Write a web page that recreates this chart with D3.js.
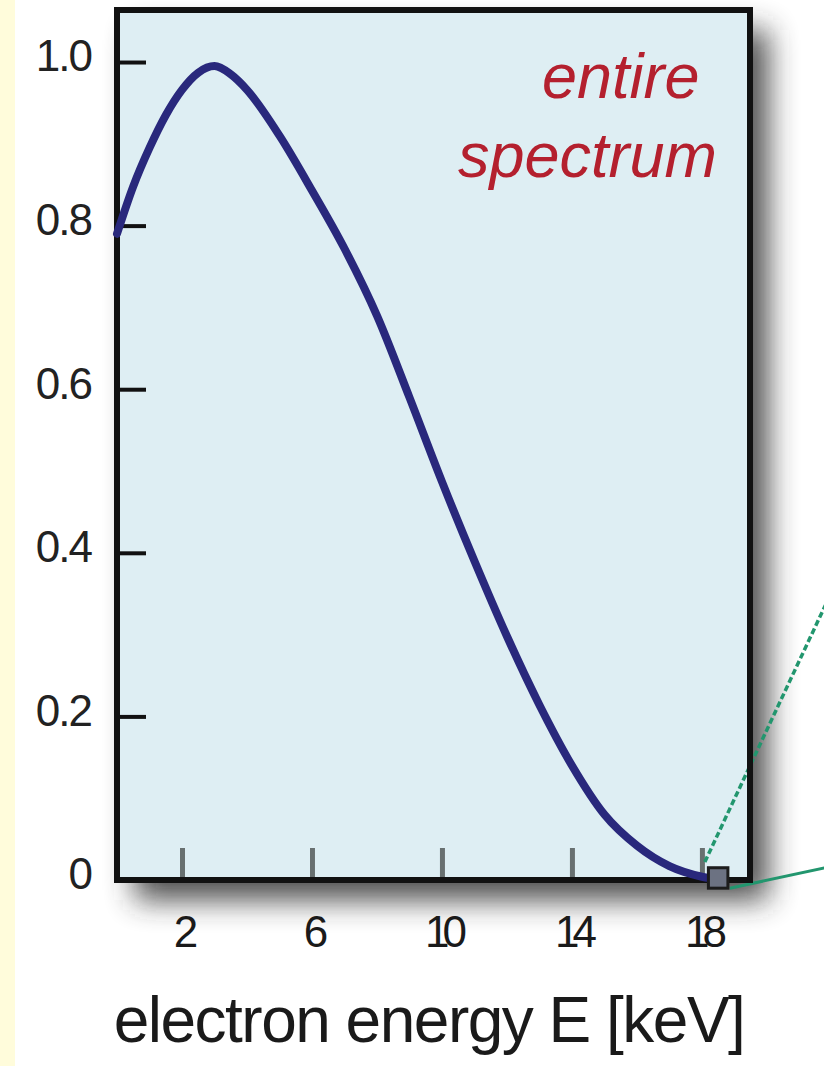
<!DOCTYPE html>
<html>
<head>
<meta charset="utf-8">
<script src="https://cdn.jsdelivr.net/npm/d3@7"></script>
<style>
    body { margin: 0; background: #fff; }
    svg text { font-family: "Liberation Sans", Arial, sans-serif; }
</style>
</head>
<body>
<div id="chart"></div>
<script>
// spectrum (energy in keV, relative rate)
var energy = [0, 0.5, 1, 1.5, 2, 2.5, 3, 3.5, 4, 5, 6, 7, 8, 9, 10, 11, 12, 13, 14, 15, 16, 17, 18, 18.6];
var rate   = [0.79, 0.848, 0.895, 0.935, 0.966, 0.987, 0.995, 0.985, 0.966, 0.91, 0.843, 0.772, 0.69, 0.59, 0.487, 0.39, 0.298, 0.214, 0.14, 0.08, 0.042, 0.017, 0.004, 0];

var xTicks = [2, 6, 10, 14, 18];
var yTicks = [0, 0.2, 0.4, 0.6, 0.8, 1.0];

var xTitle = "electron energy E [keV]";
var labelLines = ["entire", "spectrum"];

// endpoint box and the two connector lines leading off to the right
var endBox = {e0: 18.2, e1: 18.8, v0: 0.015, v1: -0.01};
var linkDashed = [[18.09, 0.022], [21.8, 0.336]];
var linkSolid  = [[18.86, -0.01], [21.8, 0.015]];

var data = energy.map(function(e, i) { return {e: e, v: rate[i]}; });

var W = 824, H = 1066;
var plot = {left: 117, right: 750, top: 10, bottom: 880};

var svg = d3.select("#chart")
    .append("svg")
    .attr("width", W)
    .attr("height", H);

var defs = svg.append("defs");
var shadow = defs.append("filter")
    .attr("id", "shadow")
    .attr("x", "-20%").attr("y", "-20%")
    .attr("width", "140%").attr("height", "140%");
shadow.append("feGaussianBlur").attr("stdDeviation", 15);

var xScale = d3.scaleLinear().domain([0, 19.48]).range([plot.left, plot.right]);
var yScale = d3.scaleLinear().domain([0, 1.0636]).range([plot.bottom, plot.top]);

// page background with the yellow strip on the left
svg.append("rect").attr("width", W).attr("height", H).attr("fill", "#ffffff");
svg.append("rect").attr("width", 15).attr("height", H).attr("fill", "#fffcdb");

// drop shadow behind the frame
svg.append("rect")
    .attr("x", plot.left + 18)
    .attr("y", plot.top + 20)
    .attr("width", plot.right - plot.left)
    .attr("height", plot.bottom - plot.top)
    .attr("fill", "#2e2e2e")
    .attr("opacity", 0.85)
    .attr("filter", "url(#shadow)");

svg.append("rect")
    .attr("x", plot.left)
    .attr("y", plot.top)
    .attr("width", plot.right - plot.left)
    .attr("height", plot.bottom - plot.top)
    .attr("fill", "#deeef3");

var yAxis = d3.axisLeft(yScale)
    .tickValues(yTicks)
    .tickSizeInner(-29)
    .tickSizeOuter(0)
    .tickPadding(26)
    .tickFormat(function(d) { return d === 0 ? "0" : d3.format(".1f")(d); });

var xAxis = d3.axisBottom(xScale)
    .tickValues(xTicks)
    .tickSizeInner(-32)
    .tickSizeOuter(0)
    .tickPadding(36)
    .tickFormat(d3.format("d"));

var yAxisGroup = svg.append("g")
    .attr("class", "y axis")
    .attr("transform", "translate(" + plot.left + ",0)")
    .call(yAxis);

yAxisGroup.select(".domain").remove();
yAxisGroup.selectAll("line").attr("stroke", "#111").attr("stroke-width", 4);
yAxisGroup.selectAll("text")
    .attr("fill", "#222")
    .attr("font-size", 44)
    .attr("letter-spacing", -2)
    .attr("dy", "0.2em");

var xAxisGroup = svg.append("g")
    .attr("class", "x axis")
    .attr("transform", "translate(0," + plot.bottom + ")")
    .call(xAxis);

xAxisGroup.select(".domain").remove();
xAxisGroup.selectAll("line").attr("stroke", "#687070").attr("stroke-width", 5);
xAxisGroup.selectAll("text")
    .attr("fill", "#1a1a1a")
    .attr("font-size", 44)
    .attr("letter-spacing", -7);

// connector lines (drawn under the frame so the border sits on top)
var link = d3.line()
    .x(function(d) { return xScale(d[0]); })
    .y(function(d) { return yScale(d[1]); });

svg.append("path")
    .datum(linkDashed)
    .attr("d", link)
    .attr("fill", "none")
    .attr("stroke", "#22966e")
    .attr("stroke-width", 3.5)
    .attr("stroke-dasharray", "6,3");

svg.append("path")
    .datum(linkSolid)
    .attr("d", link)
    .attr("fill", "none")
    .attr("stroke", "#22966e")
    .attr("stroke-width", 3);

// frame
svg.append("rect")
    .attr("x", plot.left)
    .attr("y", plot.top)
    .attr("width", plot.right - plot.left)
    .attr("height", plot.bottom - plot.top)
    .attr("fill", "none")
    .attr("stroke", "#111")
    .attr("stroke-width", 6);

var line = d3.line()
    .curve(d3.curveMonotoneX)
    .x(function(d) { return xScale(d.e); })
    .y(function(d) { return yScale(d.v); });

svg.append("path")
    .datum(data)
    .attr("class", "line")
    .attr("d", line)
    .attr("fill", "none")
    .attr("stroke", "#29287c")
    .attr("stroke-width", 8)
    .attr("stroke-linecap", "round");

svg.append("rect")
    .attr("x", xScale(endBox.e0))
    .attr("y", yScale(endBox.v0))
    .attr("width", xScale(endBox.e1) - xScale(endBox.e0))
    .attr("height", yScale(endBox.v1) - yScale(endBox.v0))
    .attr("fill", "#6c7282")
    .attr("stroke", "#1c1c1c")
    .attr("stroke-width", 3);

// red label in the corner
svg.append("text")
    .attr("x", 542)
    .attr("y", 98)
    .attr("fill", "#b4202e")
    .attr("font-size", 63)
    .attr("font-style", "italic")
    .text(labelLines[0]);

svg.append("text")
    .attr("x", 458)
    .attr("y", 177)
    .attr("fill", "#b4202e")
    .attr("font-size", 63)
    .attr("font-style", "italic")
    .text(labelLines[1]);

svg.append("text")
    .attr("x", 429)
    .attr("y", 1042)
    .attr("text-anchor", "middle")
    .attr("fill", "#1a1a1a")
    .attr("font-size", 64)
    .attr("letter-spacing", -1.5)
    .text(xTitle);
</script>
</body>
</html>
